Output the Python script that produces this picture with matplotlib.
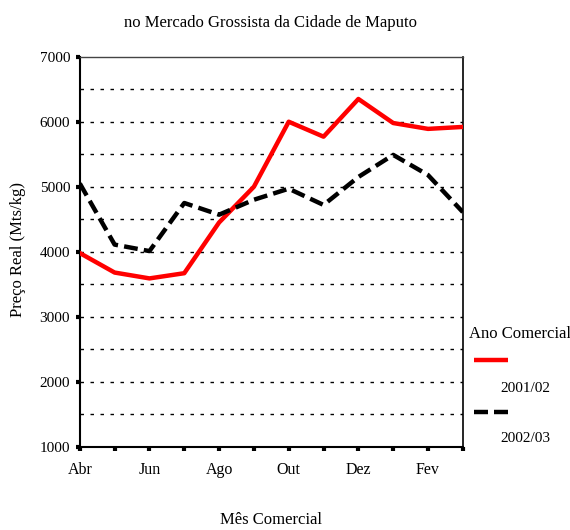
import numpy as np
import matplotlib.pyplot as plt

plt.rcParams['font.family'] = ['Liberation Serif', 'DejaVu Serif']

meses = ['Abr', 'Mai', 'Jun', 'Jul', 'Ago', 'Set', 'Out', 'Nov', 'Dez', 'Jan', 'Fev', 'Mar']
preco_2001 = [3980, 3680, 3590, 3670, 4450, 5000, 6000, 5770, 6350, 5980, 5890, 5920]
preco_2002 = [5050, 4110, 4010, 4750, 4570, 4800, 4970, 4720, 5150, 5490, 5180, 4610]
rotulos_x = ['Abr', 'Jun', 'Ago', 'Out', 'Dez', 'Fev']

tracejado = (0, (3.1, 1.4))

fig = plt.figure(figsize=(5.7, 5.3), dpi=100)
ax = fig.add_axes([0.140, 0.157, 0.672, 0.736])

x = np.arange(len(meses))

# grid lines
for g in np.arange(1500, 7000, 500):
    ax.axhline(g, color='black', lw=1.0, ls=(0, (2.5, 4.7)), zorder=1)

l1, = ax.plot(x, preco_2001, color='#ff0000', lw=3.2, zorder=3)
l2, = ax.plot(x, preco_2002, color='black', lw=3.2, ls=tracejado, zorder=3)

ax.set_xlim(0, 11)
ax.set_ylim(1000, 7000)
ax.set_xticks(x)
ax.set_xticklabels([m if m in rotulos_x else '' for m in meses], fontsize=11.5)
ax.set_yticks(np.arange(1000, 7001, 1000))
ax.tick_params(axis='y', direction='out', length=3, width=3, labelsize=11, pad=4)
ax.tick_params(axis='x', direction='out', length=3, width=3, labelsize=11.5, pad=8)

for s in ['left', 'bottom']:
    ax.spines[s].set_linewidth(1.5)
ax.spines['top'].set_linewidth(1.0)
ax.spines['top'].set_color('#444444')
ax.spines['right'].set_linewidth(1.2)

fig.text(0.475, 0.956, 'no Mercado Grossista da Cidade de Maputo', ha='center', va='center', fontsize=12)
fig.text(0.475, 0.018, 'Mês Comercial', ha='center', va='center', fontsize=12)
fig.text(0.032, 0.53, 'Preço Real (Mts/kg)', ha='center', va='center', rotation=90, fontsize=12)

# legend drawn by hand
fig.text(0.822, 0.370, 'Ano Comercial', ha='left', va='center', fontsize=12)
fig.add_artist(plt.Line2D([0.832, 0.891], [0.320, 0.320], color='#ff0000', lw=3.2,
                          solid_capstyle='butt'))
fig.text(0.877, 0.267, '2001/02', ha='left', va='center', fontsize=11)
fig.add_artist(plt.Line2D([0.832, 0.891], [0.223, 0.223], color='black', lw=3.2,
                          ls=(0, (3.15, 1.35)), dash_capstyle='butt'))
fig.text(0.877, 0.172, '2002/03', ha='left', va='center', fontsize=11)

fig.savefig('out.png', dpi=100)
